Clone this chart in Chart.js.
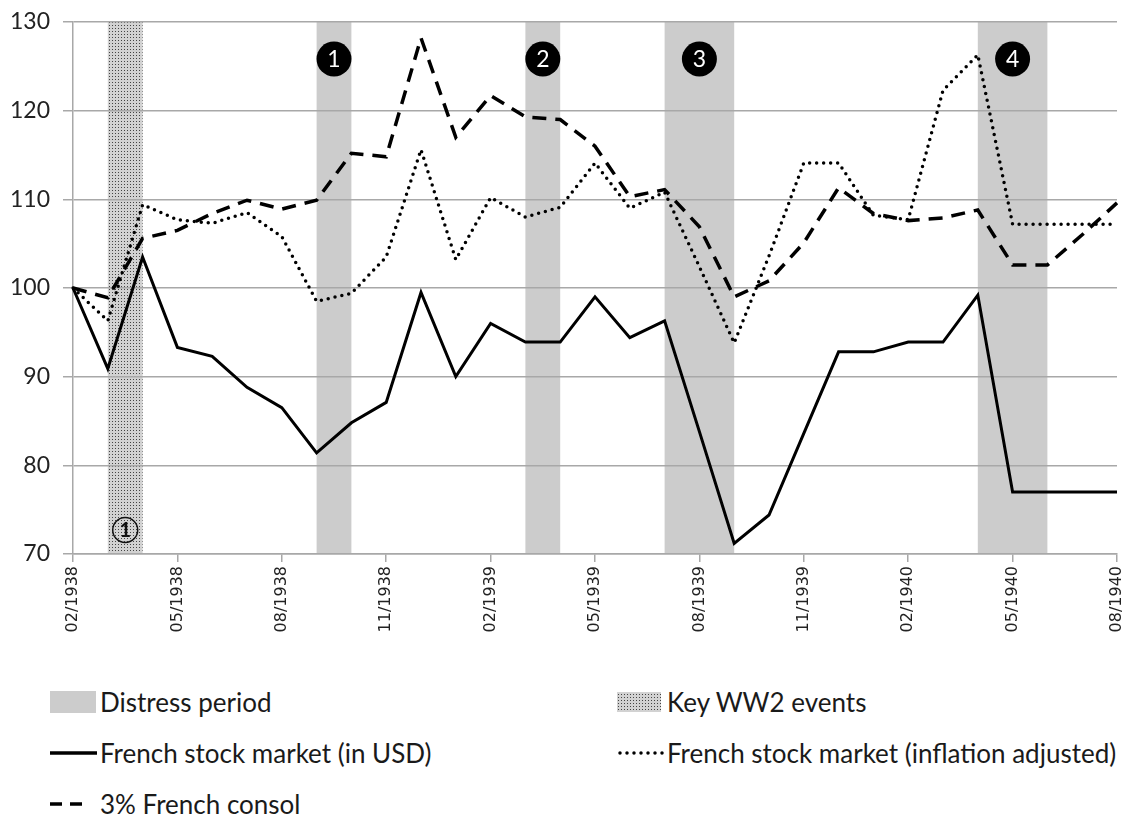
<!DOCTYPE html>
<html>
<head>
<meta charset="utf-8">
<script src="https://cdn.jsdelivr.net/npm/chart.js@4.4.0/dist/chart.umd.min.js"></script>
<style>
  body { margin: 0; background: #fff; }
  #wrap { position: relative; width: 1130px; height: 817px; }
  #chart { position: absolute; left: 0; top: 0; }
  .leg { position: absolute; font-family: Lato, 'Open Sans', sans-serif; font-size: 26px; color: #1a1a1a;
         display: flex; align-items: center; white-space: nowrap; height: 30px; }
  .leg canvas { display: block; margin-right: 3px; }
</style>
</head>
<body>
<div id="wrap">
  <canvas id="chart" width="1130" height="660"></canvas>
</div>
<script>
// monthly observations, Feb 1938 - Aug 1940
const months = ['02/1938','03/1938','04/1938','05/1938','06/1938','07/1938','08/1938','09/1938','10/1938',
  '11/1938','12/1938','01/1939','02/1939','03/1939','04/1939','05/1939','06/1939','07/1939','08/1939',
  '09/1939','10/1939','11/1939','12/1939','01/1940','02/1940','03/1940','04/1940','05/1940','06/1940',
  '07/1940','08/1940'];

const stockUsd = [100, 90.9, 103.5, 93.3, 92.3, 88.8, 86.5, 81.4, 84.8, 87.1, 99.5, 90.0, 96.0, 93.9, 93.9,
  99.0, 94.4, 96.3, 83.8, 71.2, 74.4, 83.6, 92.8, 92.8, 93.9, 93.9, 99.2, 77.0, 77.0, 77.0, 77.0];
const stockReal = [100, 96.3, 109.4, 107.7, 107.3, 108.5, 105.8, 98.5, 99.4, 103.5, 115.6, 103.2, 110.2, 108.0,
  109.1, 114.1, 109.0, 110.8, 102.4, 93.8, 103.6, 114.1, 114.1, 108.2, 107.7, 122.3, 126.3, 107.2, 107.2, 107.2, 107.2];
const consol = [100, 98.9, 105.6, 106.5, 108.4, 109.9, 108.9, 109.9, 115.2, 114.8, 128.2, 117.0, 121.7, 119.3,
  119.0, 116.0, 110.3, 111.1, 106.9, 99.0, 100.8, 105.1, 111.3, 108.4, 107.6, 107.9, 108.8, 102.6, 102.6, 106.0, 109.6];

// shaded periods, as [start index, end index]
const distressPeriods = [[7, 8], [13, 14], [17, 19], [26, 28]];
const distressLabels = ['1', '2', '3', '4'];
const ww2Events = [[1, 2]];
const ww2Labels = ['1'];

const yTicks = [70, 80, 90, 100, 110, 120, 130];

const FONT = "Lato, 'Open Sans', sans-serif";
const GRID = '#a8a8a8';

function stippleCanvas() {
  const c = document.createElement('canvas');
  c.width = 3; c.height = 3;
  const g = c.getContext('2d');
  g.fillStyle = '#d2d2d2'; g.fillRect(0, 0, 3, 3);
  g.fillStyle = '#444'; g.fillRect(1, 1, 1, 1);
  return c;
}
const stipple = stippleCanvas();

const bandsPlugin = {
  id: 'bands',
  beforeDraw(chart) {
    const { ctx, chartArea: a, scales: { x } } = chart;
    ctx.save();
    ctx.fillStyle = '#cccccc';
    distressPeriods.forEach(([s, e]) => {
      const x0 = x.getPixelForValue(s), x1 = x.getPixelForValue(e);
      ctx.fillRect(x0, a.top, x1 - x0, a.bottom - a.top);
    });
    ctx.fillStyle = ctx.createPattern(stipple, 'repeat');
    ww2Events.forEach(([s, e]) => {
      const x0 = x.getPixelForValue(s), x1 = x.getPixelForValue(e);
      ctx.fillRect(x0, a.top, x1 - x0, a.bottom - a.top);
    });
    ctx.restore();
  },
  afterDatasetsDraw(chart) {
    const { ctx, chartArea: a, scales: { x } } = chart;
    ctx.save();
    ctx.textAlign = 'center';
    ctx.textBaseline = 'middle';
    // black numbered discs above distress periods
    distressPeriods.forEach(([s, e], i) => {
      const cx = (x.getPixelForValue(s) + x.getPixelForValue(e)) / 2;
      const cy = a.top + 37;
      ctx.beginPath();
      ctx.arc(cx, cy, 17.5, 0, Math.PI * 2);
      ctx.fillStyle = '#000';
      ctx.fill();
      ctx.fillStyle = '#fff';
      ctx.font = '23px ' + FONT;
      ctx.fillText(distressLabels[i], cx, cy + 1);
    });
    // outlined number at foot of ww2 band
    ww2Events.forEach(([s, e], i) => {
      const cx = (x.getPixelForValue(s) + x.getPixelForValue(e)) / 2;
      const cy = a.bottom - 24;
      ctx.beginPath();
      ctx.arc(cx, cy, 12.5, 0, Math.PI * 2);
      ctx.lineWidth = 1.5;
      ctx.strokeStyle = '#111';
      ctx.stroke();
      ctx.fillStyle = '#111';
      ctx.font = 'bold 20px ' + FONT;
      ctx.fillText(ww2Labels[i], cx, cy + 1);
    });
    ctx.restore();
  }
};

new Chart(document.getElementById('chart'), {
  type: 'line',
  data: {
    labels: months,
    datasets: [
      { label: 'French stock market (in USD)', data: stockUsd, borderColor: '#000', borderWidth: 3,
        pointRadius: 0, tension: 0, borderJoinStyle: 'miter' },
      { label: 'French stock market (inflation adjusted)', data: stockReal, borderColor: '#000', borderWidth: 3.5,
        borderDash: [0, 7], borderCapStyle: 'round', pointRadius: 0, tension: 0 },
      { label: '3% French consol', data: consol, borderColor: '#000', borderWidth: 3.5,
        borderDash: [14, 9], borderCapStyle: 'butt', pointRadius: 0, tension: 0 }
    ]
  },
  options: {
    responsive: false,
    animation: false,
    devicePixelRatio: 1,
    layout: { padding: { top: 22, right: 13, left: 0, bottom: 0 } },
    plugins: { legend: { display: false }, tooltip: { enabled: false } },
    scales: {
      x: {
        offset: false,
        grid: { drawOnChartArea: false, color: GRID, lineWidth: 1.5, tickLength: 8 },
        border: { display: true, color: GRID, width: 1.5 },
        afterFit: s => { s.height = 106; s.paddingLeft = 0; s.paddingRight = 0; },
        ticks: {
          autoSkip: false, minRotation: 90, maxRotation: 90, padding: 4,
          color: '#222', font: { family: "'DejaVu Sans'", size: 16 },
          callback: function (v, i) { return i % 3 === 0 ? this.getLabelForValue(v) : null; }
        }
      },
      y: {
        min: 70, max: 130,
        afterFit: s => { s.width = 73; s.paddingTop = 0; s.paddingBottom = 0; },
        afterBuildTicks: s => { s.ticks = yTicks.map(v => ({ value: v })); },
        grid: { color: GRID, lineWidth: 1.5, tickLength: 10 },
        border: { display: true, color: GRID, width: 1.5 },
        ticks: { padding: 13, color: '#222', font: { family: FONT, size: 23 } }
      }
    }
  },
  plugins: [bandsPlugin]
});

// legend below the chart
const legendItems = [
  { text: 'Distress period', kind: 'box', x: 50, y: 687 },
  { text: 'Key WW2 events', kind: 'stipple', x: 617, y: 687 },
  { text: 'French stock market (in USD)', kind: 'solid', x: 50, y: 738 },
  { text: 'French stock market (inflation adjusted)', kind: 'dot', x: 617, y: 738 },
  { text: '3% French consol', kind: 'dash', x: 50, y: 789 }
];
const wrap = document.getElementById('wrap');
legendItems.forEach(it => {
  const d = document.createElement('div');
  d.className = 'leg';
  d.style.left = it.x + 'px';
  d.style.top = it.y + 'px';
  const c = document.createElement('canvas');
  c.width = 47; c.height = 30;
  const g = c.getContext('2d');
  if (it.kind === 'box') { g.fillStyle = '#cccccc'; g.fillRect(0, 4, 46, 22); }
  else if (it.kind === 'stipple') { g.fillStyle = g.createPattern(stipple, 'repeat'); g.fillRect(0, 5, 44, 20); }
  else {
    g.strokeStyle = '#000'; g.lineWidth = 3.5;
    g.beginPath();
    if (it.kind === 'dot') { g.lineCap = 'round'; g.setLineDash([0, 7]); g.moveTo(3, 15); g.lineTo(46, 15); }
    else if (it.kind === 'dash') { g.setLineDash([12, 8]); g.moveTo(0, 15); g.lineTo(40, 15); }
    else { g.moveTo(0, 15); g.lineTo(47, 15); }
    g.stroke();
  }
  d.appendChild(c);
  const t = document.createElement('span');
  t.textContent = it.text;
  d.appendChild(t);
  wrap.appendChild(d);
});
</script>
</body>
</html>
